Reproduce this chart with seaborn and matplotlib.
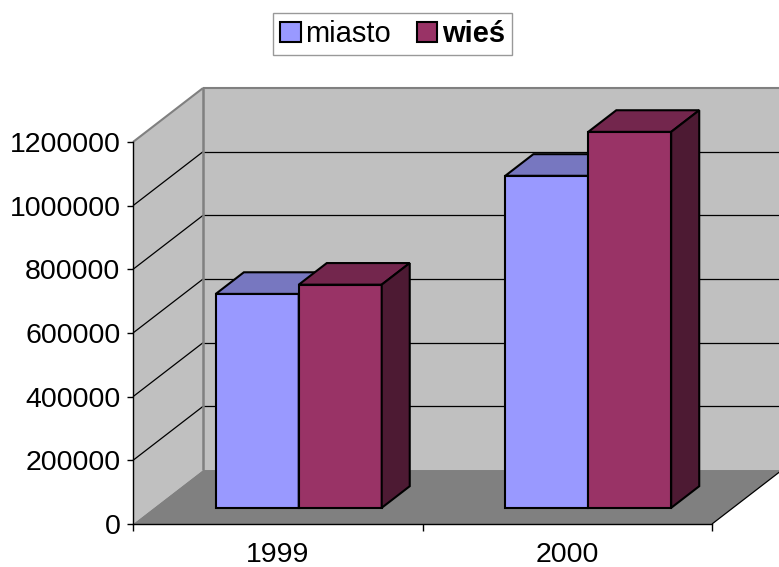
import matplotlib

matplotlib.use("Agg")
import matplotlib.pyplot as plt
import numpy as np
import pandas as pd
import seaborn as sns
from matplotlib.colors import to_rgba
from matplotlib.lines import Line2D
from matplotlib.patches import Patch, Polygon
from matplotlib.ticker import FuncFormatter

# data
YEARS = ["1999", "2000"]
SERIES = ["miasto", "wieś"]
MIASTO = [672000, 1043000]
WIES = [701000, 1181000]
Y_TICKS = [0, 200000, 400000, 600000, 800000, 1000000, 1200000]

# colours: front, top, side of each series
FRONT = {"miasto": "#9999FF", "wieś": "#993366"}
TOP = {"miasto": "#7777C0", "wieś": "#73264D"}
SIDE = {"miasto": "#5A5A99", "wieś": "#4D1A33"}
WALL = "#C0C0C0"
FLOOR = "#808080"
EDGE = "#808080"

# fake 3d: full depth of the box in data units, and where the bars sit in it
DEPTH_X = 0.242
DEPTH_Y = 169600
BAR_D0 = 0.3
BAR_D = 0.4


def pt(x, y, d):
    return (x + d * DEPTH_X, y + d * DEPTH_Y)


def draw_box(ax, x0, x1, ytop):
    """Walls, floor and gridlines of the Excel style 3d box."""
    left_wall = [pt(x0, 0, 0), pt(x0, 0, 1), pt(x0, ytop, 1), pt(x0, ytop, 0)]
    back_wall = [pt(x0, 0, 1), pt(x1, 0, 1), pt(x1, ytop, 1), pt(x0, ytop, 1)]
    floor = [pt(x0, 0, 0), pt(x1, 0, 0), pt(x1, 0, 1), pt(x0, 0, 1)]
    for poly, color in [(left_wall, WALL), (back_wall, WALL), (floor, FLOOR)]:
        ax.add_patch(Polygon(poly, closed=True, facecolor=color, edgecolor="none",
                             clip_on=False, zorder=0.1))

    def line(a, b, color="black", lw=0.9):
        ax.add_line(Line2D([a[0], b[0]], [a[1], b[1]], color=color, lw=lw,
                           clip_on=False, zorder=0.2, solid_capstyle="butt"))

    for t in Y_TICKS[1:-1]:
        line(pt(x0, t, 1), pt(x1, t, 1))
        line(pt(x0, t, 0), pt(x0, t, 1))
    line(pt(x0, ytop, 0), pt(x0, ytop, 1), EDGE, 1.5)
    line(pt(x0, ytop, 1), pt(x1, ytop, 1), EDGE, 1.5)
    line(pt(x0, 0, 1), pt(x0, ytop, 1), EDGE, 1.8)
    line(pt(x1, 0, 0), pt(x1, 0, 1))


def main() -> None:
    sns.set_theme(style="white")
    plt.rcParams["font.family"] = ["Liberation Sans", "DejaVu Sans"]
    plt.rcParams["text.color"] = "black"

    fig = plt.figure(figsize=(7.79, 5.67), dpi=100)
    ax = fig.add_axes([133 / 779, 43 / 567, 579 / 779, 382 / 567])
    ax.set_facecolor("white")

    x0, x1, ytop = -0.5, len(YEARS) - 0.5, Y_TICKS[-1]
    draw_box(ax, x0, x1, ytop)

    df = pd.DataFrame({
        "rok": YEARS * 2,
        "seria": [SERIES[0]] * len(YEARS) + [SERIES[1]] * len(YEARS),
        "wartosc": MIASTO + WIES,
    })
    n_before = len(ax.patches)
    sns.barplot(data=df, x="rok", y="wartosc", hue="seria", order=YEARS,
                hue_order=SERIES, palette=[FRONT[s] for s in SERIES],
                saturation=1, width=0.573, gap=0, errorbar=None, legend=False,
                edgecolor="black", linewidth=1.5, ax=ax)

    bars = []
    for p in ax.patches[n_before:]:
        for s in SERIES:
            if np.allclose(p.get_facecolor(), to_rgba(FRONT[s])):
                bars.append((p, s))
    bars.sort(key=lambda b: b[0].get_x())

    dx, dy = BAR_D * DEPTH_X, BAR_D * DEPTH_Y
    for i, (bar, s) in enumerate(bars):
        z = 3 + i
        x, w, h = bar.get_x(), bar.get_width(), bar.get_height()
        x += BAR_D0 * DEPTH_X
        y0 = BAR_D0 * DEPTH_Y
        bar.set_x(x)
        bar.set_y(y0)
        bar.set_clip_on(False)
        bar.set_zorder(z)
        top = [(x, y0 + h), (x + w, y0 + h), (x + w + dx, y0 + h + dy), (x + dx, y0 + h + dy)]
        side = [(x + w, y0), (x + w + dx, y0 + dy), (x + w + dx, y0 + h + dy), (x + w, y0 + h)]
        for poly, color in [(top, TOP[s]), (side, SIDE[s])]:
            ax.add_patch(Polygon(poly, closed=True, facecolor=color, edgecolor="black",
                                 linewidth=1.5, joinstyle="miter", clip_on=False, zorder=z))

    ax.set_xlim(x0, x1)
    ax.set_ylim(0, ytop)
    ax.set_xlabel("")
    ax.set_ylabel("")

    ax.set_yticks(Y_TICKS)
    ax.yaxis.set_major_formatter(FuncFormatter(lambda v, _: f"{v:.0f}"))
    ax.set_xticks(np.arange(len(YEARS) + 1) - 0.5)
    ax.set_xticklabels([])
    ax.set_xticks(np.arange(len(YEARS)), minor=True)
    ax.set_xticklabels(YEARS, minor=True)

    ax.tick_params(axis="y", left=True, length=4, width=1, color="black",
                   labelsize=20.5, labelcolor="black", pad=5)
    ax.tick_params(axis="x", which="major", bottom=True, length=5, width=1,
                   color="black", direction="out")
    ax.tick_params(axis="x", which="minor", bottom=True, length=0,
                   labelsize=20.5, labelcolor="black", pad=13)

    for side in ["top", "right"]:
        ax.spines[side].set_visible(False)
    for side in ["left", "bottom"]:
        ax.spines[side].set_color("black")
        ax.spines[side].set_linewidth(1)
        ax.spines[side].set_zorder(10)

    handles = [Patch(facecolor=FRONT[s], edgecolor="black", linewidth=1.5) for s in SERIES]
    leg = fig.legend(handles, SERIES, loc="center", bbox_to_anchor=(392.5 / 779, 1 - 34 / 567),
                     ncol=2, fontsize=21, frameon=True, fancybox=False, edgecolor=EDGE,
                     handlelength=0.7, handleheight=0.7, handletextpad=0.15,
                     columnspacing=0.9, borderpad=0.25, borderaxespad=0)
    leg.get_frame().set_linewidth(1)
    for text in leg.get_texts():
        text.set_color("black")
    leg.get_texts()[1].set_fontweight("bold")

    fig.savefig("out.png", dpi=100)


if __name__ == "__main__":
    main()
